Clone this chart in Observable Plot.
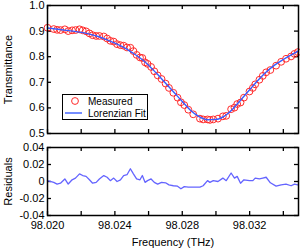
<!DOCTYPE html>
<html>
<head>
<meta charset="utf-8">
<script src="https://cdn.jsdelivr.net/npm/d3@7"></script>
<script src="https://cdn.jsdelivr.net/npm/@observablehq/plot@0.6"></script>
<style>
  html, body { margin: 0; padding: 0; background: #fff; }
  #wrap { position: relative; width: 300px; height: 251px; font-family: "Liberation Sans", Arial, sans-serif; }
  #wrap svg { display: block; }
  #legend { position: absolute; left: 62px; top: 94px; }
</style>
</head>
<body>
<div id="wrap"></div>
<script>
// Lorentzian fit
const fitFreq = [98.0200, 98.0205, 98.0210, 98.0215, 98.0220, 98.0225, 98.0230, 98.0235, 98.0240, 98.0245,
  98.0250, 98.0255, 98.0260, 98.0265, 98.0270, 98.0275, 98.0280, 98.0285, 98.0290, 98.0295,
  98.0300, 98.0305, 98.0310, 98.0315, 98.0320, 98.0325, 98.0330, 98.0335, 98.0340, 98.0345, 98.0349];
const fitT = [0.912, 0.908, 0.904, 0.900, 0.895, 0.888, 0.879, 0.867, 0.853, 0.837,
  0.817, 0.795, 0.767, 0.733, 0.697, 0.661, 0.625, 0.590, 0.566, 0.554,
  0.555, 0.568, 0.596, 0.633, 0.671, 0.708, 0.741, 0.768, 0.789, 0.808, 0.823];

// Measured points and residuals
const measFreq = [98.02000, 98.02037, 98.02057, 98.02077, 98.02103, 98.02123, 98.02146, 98.02166, 98.02190, 98.02209,
  98.02229, 98.02249, 98.02268, 98.02289, 98.02308, 98.02334, 98.02354, 98.02373, 98.02393, 98.02413,
  98.02433, 98.02452, 98.02472, 98.02492, 98.02510, 98.02529, 98.02549, 98.02563, 98.02579, 98.02594,
  98.02615, 98.02634, 98.02654, 98.02677, 98.02701, 98.02721, 98.02747, 98.02772, 98.02792, 98.02812,
  98.02836, 98.02865, 98.02905, 98.02924, 98.02950, 98.02964, 98.02984, 98.03012, 98.03041, 98.03061,
  98.03090, 98.03110, 98.03126, 98.03146, 98.03166, 98.03199, 98.03219, 98.03233, 98.03258, 98.03278,
  98.03298, 98.03323, 98.03357, 98.03387, 98.03416, 98.03446, 98.03466, 98.03486];
const measT = [0.913, 0.908, 0.905, 0.904, 0.907, 0.900, 0.903, 0.904, 0.907, 0.903,
  0.899, 0.891, 0.884, 0.881, 0.881, 0.879, 0.871, 0.862, 0.859, 0.849,
  0.845, 0.843, 0.836, 0.835, 0.822, 0.807, 0.797, 0.795, 0.778, 0.772,
  0.760, 0.743, 0.727, 0.713, 0.695, 0.678, 0.659, 0.640, 0.622, 0.611,
  0.593, 0.575, 0.558, 0.555, 0.555, 0.553, 0.555, 0.558, 0.567, 0.569,
  0.595, 0.601, 0.615, 0.621, 0.640, 0.664, 0.678, 0.692, 0.710, 0.725,
  0.739, 0.748, 0.765, 0.780, 0.792, 0.801, 0.811, 0.818];
const resid = [0.001, -0.001, -0.003, -0.002, 0.003, -0.003, 0.002, 0.004, 0.009, 0.007,
  0.006, 0.002, -0.002, -0.001, 0.003, 0.007, 0.005, 0.001, 0.004, 0.000,
  0.002, 0.007, 0.008, 0.015, 0.009, 0.003, 0.002, 0.007, -0.001, 0.001,
  0.003, -0.001, -0.003, -0.001, -0.0015, -0.004, -0.005, -0.0055, -0.0085, -0.006,
  -0.0065, -0.0065, -0.0065, -0.005, 0.001, -0.001, 0.001, 0.000, 0.004, 0.001,
  0.010, 0.004, 0.006, -0.002, 0.002, 0.001, 0.001, 0.004, 0.003, 0.004,
  0.005, -0.0015, -0.0055, -0.004, -0.003, -0.005, -0.003, -0.004];

// Ticks
const xTicks = [98.020, 98.022, 98.024, 98.026, 98.028, 98.030, 98.032, 98.034];
const xLabels = [98.020, 98.024, 98.028, 98.032];
const yTicksTop = [0.5, 0.6, 0.7, 0.8, 0.9, 1.0];
const yTicksRes = [-0.04, -0.02, 0, 0.02, 0.04];

const fitData = fitFreq.map((f, i) => ({f, t: fitT[i]}));
const measData = measFreq.map((f, i) => ({f, t: measT[i], r: resid[i]}));

const FONT = '"Liberation Sans", Arial, sans-serif';
const W = 300, ML = 47, MR = 2;
const innerW = W - ML - MR;
const xDomain = [98.020, 98.0349];
const tickLen = 4;
const tickStyle = {stroke: "#000", strokeWidth: 1.3};

function tickMarks(yTicks, innerH) {
  return [
    Plot.tickX(xTicks, {x: d => d, insetTop: innerH - tickLen, ...tickStyle}),
    Plot.tickX(xTicks, {x: d => d, insetBottom: innerH - tickLen, ...tickStyle}),
    Plot.tickY(yTicks, {y: d => d, insetRight: innerW - tickLen, ...tickStyle}),
    Plot.tickY(yTicks, {y: d => d, insetLeft: innerW - tickLen, ...tickStyle})
  ];
}

// Top panel
const topH = 138, topMT = 5, topMB = 5;
const topPlot = Plot.plot({
  width: W, height: topH, marginTop: topMT, marginBottom: topMB, marginLeft: ML, marginRight: MR,
  style: {fontFamily: FONT, fontSize: "11px", color: "#000", background: "transparent"},
  x: {domain: xDomain, axis: null},
  y: {domain: [0.5, 1.0]},
  marks: [
    Plot.axisY(yTicksTop, {tickSize: 0, tickPadding: 3, tickFormat: d => d.toFixed(1), label: null, fontSize: 11}),
    ...tickMarks(yTicksTop, topH - topMT - topMB),
    Plot.dot(measData, {x: "f", y: "t", r: 3.4, stroke: "#ff2a2a", strokeWidth: 1, fill: "none"}),
    Plot.line(fitData, {x: "f", y: "t", stroke: "#3a5cff", strokeWidth: 1.4, curve: "monotone-x"}),
    Plot.text(["Transmittance"], {frameAnchor: "left", dx: -39, rotate: -90, fontSize: 11, textAnchor: "middle", lineAnchor: "middle", fill: "#000"}),
    Plot.frame({stroke: "#000", strokeWidth: 1.5})
  ]
});

// Residual panel
const botH = 113, botMT = 9, botMB = 36;
const botPlot = Plot.plot({
  width: W, height: botH, marginTop: botMT, marginBottom: botMB, marginLeft: ML, marginRight: MR,
  style: {fontFamily: FONT, fontSize: "11px", color: "#000", background: "transparent"},
  x: {domain: xDomain},
  y: {domain: [-0.04, 0.04]},
  marks: [
    Plot.axisY(yTicksRes, {tickSize: 0, tickPadding: 3, tickFormat: d => d === 0 ? "0" : d.toFixed(2), label: null, fontSize: 11}),
    Plot.axisX(xLabels, {tickSize: 0, tickPadding: 6, tickFormat: d => d.toFixed(3), label: null, fontSize: 11}),
    ...tickMarks(yTicksRes, botH - botMT - botMB),
    Plot.line(measData, {x: "f", y: "r", stroke: "#6464ff", strokeWidth: 1.3}),
    Plot.text(["Residuals"], {frameAnchor: "left", dx: -39, rotate: -90, fontSize: 11, textAnchor: "middle", lineAnchor: "middle", fill: "#000"}),
    Plot.text(["Frequency (THz)"], {frameAnchor: "bottom", dy: 27, fontSize: 11, textAnchor: "middle", lineAnchor: "middle", fill: "#000"}),
    Plot.frame({stroke: "#000", strokeWidth: 1.5})
  ]
});

const wrap = document.getElementById("wrap");
wrap.appendChild(topPlot);
wrap.appendChild(botPlot);

// Legend (inside the top panel)
const legend = document.createElement("div");
legend.id = "legend";
legend.innerHTML = `
<svg width="86" height="26" xmlns="http://www.w3.org/2000/svg" style="font-family:${FONT}">
  <rect x="0.5" y="0.5" width="85" height="25" fill="#fff" stroke="#000" stroke-width="1"/>
  <circle cx="13" cy="7" r="3.4" fill="none" stroke="#ff2a2a" stroke-width="1"/>
  <text x="26" y="7" dy="0.35em" font-size="10" fill="#000">Measured</text>
  <line x1="3" x2="20" y1="19" y2="19" stroke="#3a5cff" stroke-width="1.4"/>
  <text x="26" y="19" dy="0.35em" font-size="10" fill="#000">Lorenzian Fit</text>
</svg>`;
wrap.appendChild(legend);
</script>
</body>
</html>
